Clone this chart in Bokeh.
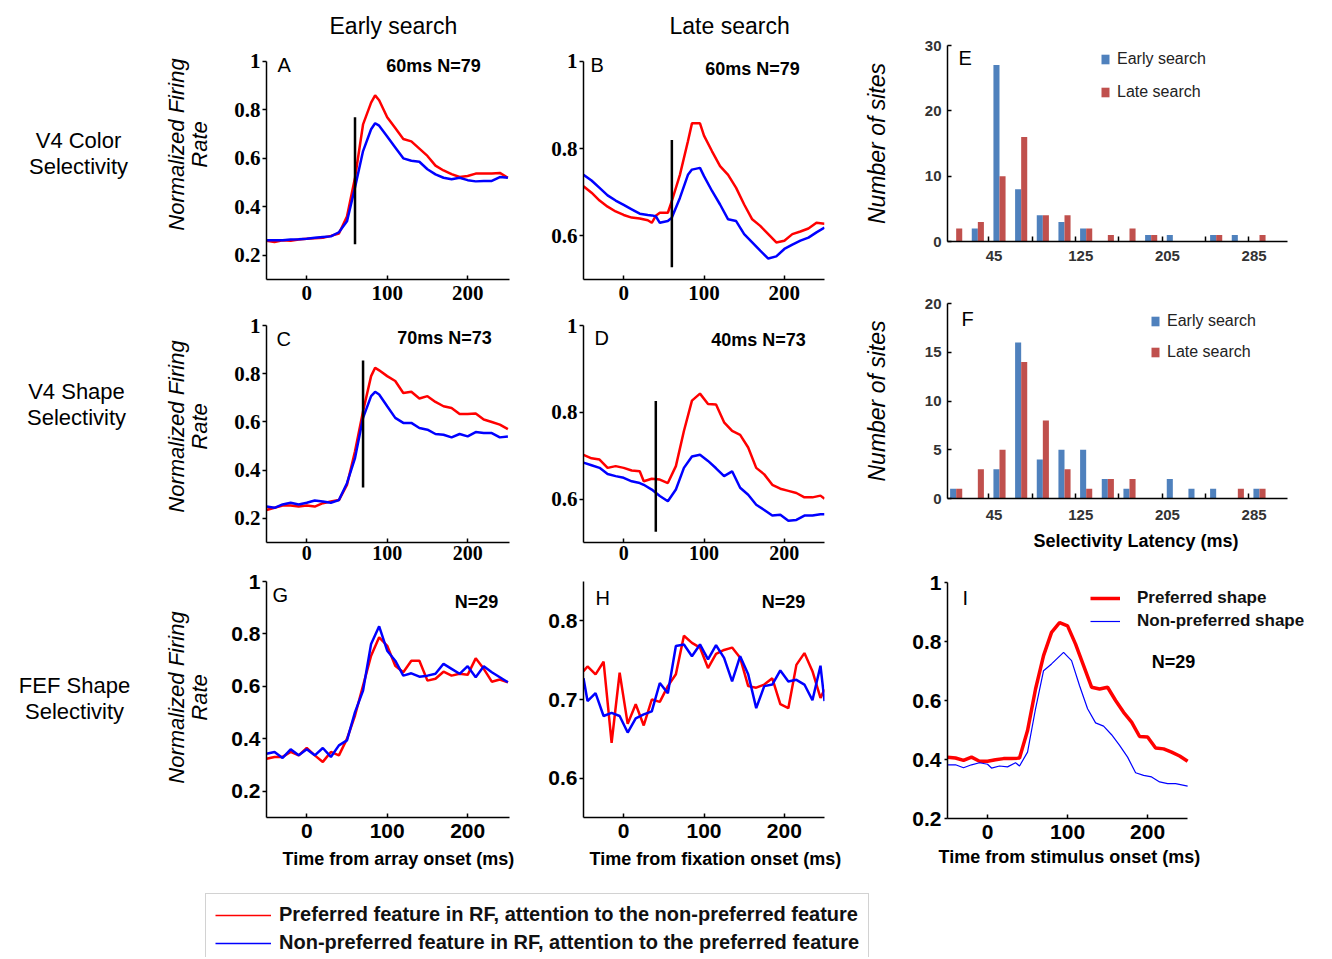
import math

from bokeh.embed import file_html
from bokeh.layouts import column, row
from bokeh.models import (ColumnDataSource, CustomJSTickFormatter, FixedTicker, Label,
                          Legend, LegendItem, Range1d, Title)
from bokeh.plotting import figure
from bokeh.resources import INLINE
from bokeh.transform import dodge

# ---- values ----
# V4 colour selectivity, early search (A)
t_a = [-50, -40, -30, -20, -10, 0, 10, 20, 30, 40, 50, 60, 70, 80, 85, 90,
       100, 110, 120, 130, 140, 150, 160, 170, 180, 190, 200, 210, 220, 230, 240, 250]
red_a = [0.26, 0.255, 0.262, 0.26, 0.265, 0.268, 0.27, 0.272, 0.28, 0.29, 0.36, 0.52, 0.74, 0.83, 0.86, 0.84,
         0.77, 0.725, 0.68, 0.67, 0.64, 0.61, 0.57, 0.55, 0.535, 0.523, 0.527, 0.537, 0.537, 0.538, 0.54, 0.52]
blue_a = [0.262, 0.262, 0.262, 0.265, 0.266, 0.268, 0.272, 0.275, 0.278, 0.295, 0.34, 0.48, 0.63, 0.72, 0.745, 0.735,
          0.69, 0.645, 0.60, 0.59, 0.586, 0.555, 0.534, 0.52, 0.514, 0.52, 0.51, 0.505, 0.507, 0.507, 0.523, 0.52]

# V4 colour selectivity, late search (B)
t_b = [-50, -40, -30, -20, -10, 0, 10, 20, 30, 35, 40, 45, 55, 60, 70, 80, 85, 95,
       100, 110, 120, 130, 140, 150, 160, 170, 180, 190, 200, 210, 220, 230, 240, 250]
red_b = [0.714, 0.699, 0.681, 0.667, 0.656, 0.648, 0.642, 0.64, 0.636, 0.63, 0.646, 0.653, 0.653, 0.68, 0.74,
         0.817, 0.858, 0.858, 0.83, 0.794, 0.76, 0.74, 0.71, 0.672, 0.638, 0.623, 0.604, 0.585, 0.589, 0.604,
         0.61, 0.617, 0.63, 0.628]
blue_b = [0.74, 0.727, 0.71, 0.693, 0.681, 0.671, 0.661, 0.651, 0.648, 0.647, 0.645, 0.63, 0.634, 0.642, 0.687,
          0.74, 0.752, 0.756, 0.737, 0.703, 0.672, 0.638, 0.634, 0.604, 0.585, 0.566, 0.548, 0.553, 0.57, 0.58,
          0.589, 0.596, 0.608, 0.619]

# V4 shape selectivity, early search (C)
t_c = [-50, -40, -30, -20, -10, 0, 10, 20, 30, 40, 50, 60, 70, 80, 85, 90,
       100, 110, 120, 130, 140, 150, 160, 170, 180, 190, 200, 210, 220, 230, 240, 250]
red_c = [0.235, 0.244, 0.253, 0.253, 0.249, 0.253, 0.249, 0.263, 0.27, 0.276, 0.339, 0.478, 0.644, 0.79, 0.825,
         0.814, 0.79, 0.77, 0.72, 0.725, 0.697, 0.707, 0.683, 0.665, 0.658, 0.633, 0.633, 0.635, 0.61, 0.6,
         0.589, 0.57]
blue_c = [0.249, 0.244, 0.258, 0.265, 0.258, 0.265, 0.274, 0.27, 0.265, 0.276, 0.346, 0.45, 0.617, 0.707, 0.725,
          0.714, 0.665, 0.617, 0.596, 0.596, 0.575, 0.568, 0.55, 0.547, 0.536, 0.55, 0.54, 0.558, 0.554, 0.554,
          0.536, 0.54]

# V4 shape selectivity, late search (D)
t_d = [-50, -40, -30, -20, -10, 0, 10, 20, 25, 35, 45, 55, 65, 75, 85, 95, 105, 115, 125, 135,
       145, 155, 165, 175, 185, 195, 205, 215, 225, 235, 245, 250]
red_d = [0.702, 0.694, 0.691, 0.672, 0.676, 0.672, 0.666, 0.664, 0.641, 0.647, 0.645, 0.637, 0.676, 0.757,
         0.827, 0.843, 0.819, 0.818, 0.777, 0.757, 0.748, 0.719, 0.672, 0.657, 0.633, 0.624, 0.619, 0.614,
         0.604, 0.604, 0.608, 0.601]
blue_d = [0.684, 0.678, 0.672, 0.658, 0.653, 0.649, 0.641, 0.637, 0.633, 0.622, 0.607, 0.595, 0.622, 0.672,
          0.698, 0.702, 0.688, 0.671, 0.653, 0.664, 0.626, 0.61, 0.587, 0.575, 0.562, 0.564, 0.55, 0.552,
          0.562, 0.562, 0.565, 0.565]

# FEF shape selectivity, early search (G)
t_g = [-50, -40, -30, -20, -10, 0, 10, 20, 30, 40, 50, 60, 70, 80, 90, 100,
       110, 120, 130, 140, 150, 160, 170, 180, 190, 200, 210, 220, 230, 240, 250]
red_g = [0.324, 0.331, 0.331, 0.35, 0.337, 0.365, 0.337, 0.312, 0.35, 0.337, 0.4, 0.489, 0.603, 0.717, 0.787,
         0.755, 0.679, 0.654, 0.698, 0.698, 0.622, 0.629, 0.656, 0.641, 0.648, 0.644, 0.707, 0.667, 0.618,
         0.626, 0.616]
blue_g = [0.343, 0.35, 0.327, 0.36, 0.337, 0.36, 0.337, 0.365, 0.331, 0.375, 0.394, 0.502, 0.584, 0.762, 0.829,
          0.736, 0.698, 0.641, 0.65, 0.637, 0.641, 0.648, 0.686, 0.667, 0.648, 0.677, 0.635, 0.677, 0.654,
          0.635, 0.616]

# FEF shape selectivity, late search (H)
t_h = [-50, -45, -35, -25, -15, -5, 5, 15, 25, 35, 45, 55, 65, 75, 85, 95, 105, 115, 125, 135,
       145, 155, 165, 175, 185, 195, 205, 215, 225, 235, 245, 250]
red_h = [0.736, 0.742, 0.732, 0.748, 0.645, 0.734, 0.669, 0.694, 0.667, 0.7, 0.697, 0.717, 0.732, 0.781,
         0.772, 0.766, 0.74, 0.758, 0.763, 0.766, 0.753, 0.717, 0.715, 0.719, 0.727, 0.694, 0.689, 0.744,
         0.759, 0.736, 0.702, 0.713]
blue_h = [0.727, 0.698, 0.708, 0.679, 0.683, 0.679, 0.658, 0.676, 0.681, 0.685, 0.721, 0.708, 0.768, 0.77,
          0.755, 0.77, 0.751, 0.769, 0.753, 0.723, 0.755, 0.732, 0.689, 0.717, 0.719, 0.737, 0.723, 0.725,
          0.719, 0.699, 0.743, 0.698]

# FEF, preferred vs non-preferred shape (I)
t_i_red = [-50, -40, -30, -20, -10, 0, 10, 20, 30, 40, 50, 60, 70, 80, 90, 100,
           110, 120, 130, 140, 150, 160, 170, 180, 190, 200, 210, 220, 230, 240, 250]
red_i = [0.408, 0.405, 0.397, 0.408, 0.394, 0.394, 0.399, 0.403, 0.403, 0.405, 0.498, 0.639, 0.752, 0.831,
         0.864, 0.853, 0.791, 0.718, 0.645, 0.639, 0.645, 0.6, 0.56, 0.527, 0.478, 0.476, 0.439, 0.436,
         0.425, 0.412, 0.394]
t_i_blue = [-50, -40, -30, -20, -10, 0, 5, 15, 25, 35, 40, 50, 60, 70, 80, 95, 105, 115, 125, 135,
            145, 155, 165, 175, 185, 195, 205, 215, 225, 235, 250]
blue_i = [0.382, 0.382, 0.372, 0.382, 0.389, 0.384, 0.371, 0.378, 0.375, 0.389, 0.378, 0.425, 0.572, 0.701,
          0.724, 0.763, 0.735, 0.65, 0.572, 0.524, 0.513, 0.484, 0.448, 0.408, 0.355, 0.346, 0.341, 0.324,
          0.318, 0.318, 0.31]

# selectivity latency markers for A-D: time and vertical extent
latency_ms = [60, 60, 70, 40]
latency_lo = [0.245, 0.528, 0.328, 0.525]
latency_hi = [0.77, 0.82, 0.855, 0.826]
latency_notes = ["60ms N=79", "60ms N=79", "70ms N=73", "40ms N=73"]

# latency histograms (E: colour, F: shape)
bin_centers = [10, 30, 50, 70, 90, 110, 130, 150, 170, 190, 210, 230, 250, 270, 290]
early_e = [0, 2, 27, 8, 4, 3, 2, 0, 0, 1, 1, 0, 1, 1, 0]
late_e = [2, 3, 10, 16, 4, 4, 2, 1, 2, 1, 0, 0, 1, 0, 1]
early_f = [1, 0, 3, 16, 4, 5, 5, 2, 1, 0, 2, 1, 1, 0, 1]
late_f = [1, 3, 5, 14, 8, 3, 1, 2, 2, 0, 0, 0, 0, 1, 1]

time_ticks = [0, 100, 200]
rate_ticks = [0.2, 0.4, 0.6, 0.8, 1.0]
late_ticks = [0.6, 0.8, 1.0]
fef_late_ticks = [0.6, 0.7, 0.8]
hist_labels = [45, 125, 205, 285]
hist_marks = [40, 80, 120, 160, 200, 240, 280]

RED = "#ff0000"
BLUE = "#0000ff"
HIST_BLUE = "#4f81bd"
HIST_RED = "#c0504d"
SANS = "Liberation Sans"
SERIF = "Liberation Serif"
PAD = 12  # room above the end of the y axis so panel letters are not cut


def base(width, height, borders, x_range, y_range):
    left, right, top, bottom = borders
    p = figure(width=width, height=height, x_range=Range1d(*x_range), y_range=Range1d(*y_range),
               output_backend="svg", toolbar_location=None,
               min_border_left=left, min_border_right=right,
               min_border_top=top, min_border_bottom=bottom)
    p.grid.visible = False
    p.outline_line_color = None
    for ax in p.axis:
        ax.axis_line_color = "black"
        ax.axis_line_width = 1.5
        ax.major_tick_line_color = "black"
        ax.major_tick_line_width = 1.5
        ax.minor_tick_line_color = None
        ax.major_label_text_font_style = "bold"
        ax.major_label_text_color = "black"
    return p


def rate_panel(width, height, borders, x_range, y_range, y_ticks, font):
    left, right, top, bottom = borders
    y0, y1 = y_range
    extra = (y1 - y0) * PAD / (height - top - bottom)
    p = base(width, height, (left, right, top - PAD, bottom), x_range, (y0, y1 + extra))
    p.yaxis.bounds = (y0, y1)
    p.xaxis.ticker = FixedTicker(ticks=time_ticks)
    p.yaxis.ticker = FixedTicker(ticks=y_ticks)
    p.yaxis.formatter = CustomJSTickFormatter(code="return tick == 1 ? '1' : tick.toFixed(1);")
    for ax in p.axis:
        ax.major_label_text_font = font
        ax.major_label_text_font_size = "21px"
    p.xaxis.major_tick_in = 4
    p.xaxis.major_tick_out = 0
    p.xaxis.major_label_standoff = 6
    p.yaxis.major_tick_in = 0
    p.yaxis.major_tick_out = 4
    p.yaxis.major_label_standoff = 2
    return p


def note(p, x, y, text, size, style="normal", align="left", angle=0.0):
    p.add_layout(Label(x=x, y=y, x_units="screen", y_units="screen", text=text,
                       text_font=SANS, text_font_size=size, text_font_style=style,
                       text_align=align, text_baseline="middle", angle=angle,
                       text_color="black"))


def pair(p, t_red, red, t_blue, blue, red_width=2.5, blue_width=2.5):
    r = p.line(t_red, red, line_color=RED, line_width=red_width)
    b = p.line(t_blue, blue, line_color=BLUE, line_width=blue_width)
    return r, b


def latency(p, i):
    p.segment(x0=[latency_ms[i]], y0=[latency_lo[i]], x1=[latency_ms[i]], y1=[latency_hi[i]],
              line_color="black", line_width=2.5)


def x_title(p, text, offset, standoff):
    p.add_layout(Title(text=text, align="left", offset=offset, standoff=standoff,
                       text_font=SANS, text_font_size="18px", text_font_style="bold",
                       text_color="black"), "below")


def col_title(p, text, offset, standoff):
    p.title.text = text
    p.title.align = "left"
    p.title.offset = offset
    p.title.standoff = standoff
    p.title.text_font = SANS
    p.title.text_font_size = "23px"
    p.title.text_font_style = "normal"
    p.title.text_color = "black"


def hist_panel(height, borders, y_max, y_ticks, early, late, legend_at, spacing):
    p = base(464, height, borders, (2, 350), (0, y_max))
    src = ColumnDataSource(dict(x=bin_centers, early=early, late=late))
    rb = p.vbar(x=dodge("x", -2.8), top="early", width=5.6, source=src,
                fill_color=HIST_BLUE, line_color=None)
    rr = p.vbar(x=dodge("x", 2.8), top="late", width=5.6, source=src,
                fill_color=HIST_RED, line_color=None)
    p.xaxis.bounds = (2, 316)
    p.xaxis.ticker = FixedTicker(ticks=hist_labels, minor_ticks=hist_marks)
    p.xaxis.major_tick_in = 0
    p.xaxis.major_tick_out = 0
    p.xaxis.minor_tick_line_color = "black"
    p.xaxis.minor_tick_line_width = 1.5
    p.xaxis.minor_tick_in = 5
    p.xaxis.minor_tick_out = 0
    p.xaxis.major_label_standoff = 9
    p.yaxis.ticker = FixedTicker(ticks=y_ticks)
    p.yaxis.major_tick_in = 4
    p.yaxis.major_tick_out = 0
    p.yaxis.major_label_standoff = 6
    for ax in p.axis:
        ax.major_label_text_font = SANS
        ax.major_label_text_font_size = "15px"
        ax.major_label_text_color = "#333333"
    p.yaxis.axis_label = "Number of sites"
    p.yaxis.axis_label_text_font = SANS
    p.yaxis.axis_label_text_font_size = "23px"
    p.yaxis.axis_label_text_font_style = "italic"
    p.yaxis.axis_label_text_color = "black"
    p.yaxis.axis_label_standoff = 32
    legend = Legend(items=[LegendItem(label="Early search", renderers=[rb]),
                           LegendItem(label="Late search", renderers=[rr])],
                    location=legend_at, glyph_width=10, glyph_height=12, label_height=18,
                    spacing=spacing, padding=0, label_standoff=7, border_line_color=None,
                    background_fill_alpha=0, label_text_font=SANS, label_text_font_size="16px",
                    label_text_color="#222222")
    p.add_layout(legend)
    return p


# ---- texts left of the panels: row names and y titles ----
side = figure(width=215, height=893, x_range=Range1d(0, 1), y_range=Range1d(0, 1),
              output_backend="svg", toolbar_location=None, x_axis_location=None,
              y_axis_location=None, min_border=0)
side.grid.visible = False
side.outline_line_color = None
row_names = [("V4 Color", 78, 753), ("Selectivity", 78, 727),
             ("V4 Shape", 76, 502), ("Selectivity", 76, 476),
             ("FEF Shape", 74, 208), ("Selectivity", 74, 182)]
for text, x, y in row_names:
    note(side, x, y, text, "22px", align="center")
for y in (749, 467, 196):
    note(side, 176, y, "Normalized Firing", "22px", "italic", "center", math.pi / 2)
    note(side, 199, y, "Rate", "22px", "italic", "center", math.pi / 2)

# ---- first column ----
p_a = rate_panel(322, 310, (51, 28, 60, 31), (-50, 252), (0.1, 1.0), rate_ticks, SERIF)
pair(p_a, t_a, red_a, t_a, blue_a)
latency(p_a, 0)
note(p_a, 11, 215, "A", "20px")
note(p_a, 167, 214, latency_notes[0], "18px", "bold", "center")
col_title(p_a, "Early search", 63, 21)

p_c = rate_panel(322, 258, (51, 28, 15, 26), (-50, 252), (0.1, 1.0), rate_ticks, SERIF)
p_c.xaxis.major_label_text_font_size = "20px"
p_c.xaxis.major_label_standoff = 3
pair(p_c, t_c, red_c, t_c, blue_c)
latency(p_c, 2)
note(p_c, 10, 204, "C", "20px")
note(p_c, 178, 205, latency_notes[2], "18px", "bold", "center")

p_g = rate_panel(322, 325, (51, 28, 13, 76), (-50, 252), (0.1, 1.0), rate_ticks, SANS)
pair(p_g, t_g, red_g, t_g, blue_g)
note(p_g, 6, 223, "G", "20px")
note(p_g, 210, 216, "N=29", "18px", "bold", "center")
x_title(p_g, "Time from array onset (ms)", 16, 12)

# ---- second column ----
p_b = rate_panel(323, 310, (46, 36, 60, 31), (-50, 250), (0.5, 1.0), late_ticks, SERIF)
pair(p_b, t_b, red_b, t_b, blue_b)
latency(p_b, 1)
note(p_b, 7, 215, "B", "20px")
note(p_b, 169, 211, latency_notes[1], "18px", "bold", "center")
col_title(p_b, "Late search", 86, 21)

p_d = rate_panel(323, 258, (46, 36, 15, 26), (-50, 250), (0.5, 1.0), late_ticks, SERIF)
p_d.xaxis.major_label_text_font_size = "20px"
p_d.xaxis.major_label_standoff = 3
pair(p_d, t_d, red_d, t_d, blue_d)
latency(p_d, 3)
note(p_d, 11, 205, "D", "20px")
note(p_d, 175, 203, latency_notes[3], "18px", "bold", "center")

p_h = rate_panel(323, 325, (46, 36, 13, 76), (-50, 250), (0.55, 0.85), fef_late_ticks, SANS)
pair(p_h, t_h, red_h, t_h, blue_h)
note(p_h, 12, 220, "H", "20px")
note(p_h, 200, 216, "N=29", "18px", "bold", "center")
x_title(p_h, "Time from fixation onset (ms)", 6, 12)

# ---- third column ----
p_e = hist_panel(290, (87, 0, 45, 49), 30, [0, 10, 20, 30], early_e, late_e, (153, 140), 15)
note(p_e, 11, 184, "E", "20px")

p_f = hist_panel(278, (87, 0, 13, 70), 20, [0, 5, 10, 15, 20], early_f, late_f, (203, 137), 13)
p_f.xaxis.major_label_standoff = 11
p_f.xaxis.axis_label = "Selectivity Latency (ms)"
p_f.xaxis.axis_label_text_font = SANS
p_f.xaxis.axis_label_text_font_size = "18px"
p_f.xaxis.axis_label_text_font_style = "bold"
p_f.xaxis.axis_label_text_color = "black"
p_f.xaxis.axis_label_standoff = 8
note(p_f, 14, 180, "F", "20px")

p_i = rate_panel(464, 325, (87, 0, 14, 75), (-50, 421), (0.2, 1.0), rate_ticks, SANS)
p_i.xaxis.bounds = (-50, 250)
r_i, b_i = pair(p_i, t_i_red, red_i, t_i_blue, blue_i, red_width=3.5, blue_width=1.2)
p_i.yaxis.major_tick_out = 3
p_i.yaxis.major_label_standoff = 3
note(p_i, 15, 221, "I", "20px")
note(p_i, 226, 157, "N=29", "18px", "bold", "center")
x_title(p_i, "Time from stimulus onset (ms)", -9, 7)
p_i.add_layout(Legend(items=[LegendItem(label="Preferred shape", renderers=[r_i]),
                             LegendItem(label="Non-preferred shape", renderers=[b_i])],
                      location=(143, 187), glyph_width=30, glyph_height=20, label_height=20,
                      spacing=3, padding=0, label_standoff=17, border_line_color=None,
                      background_fill_alpha=0, label_text_font=SANS, label_text_font_size="17px",
                      label_text_font_style="bold", label_text_color="#111111"))

# ---- shared legend under the first two columns ----
p_key = figure(width=1324, height=64, x_range=Range1d(1000, 1001), y_range=Range1d(0, 1),
               output_backend="svg", toolbar_location=None, x_axis_location=None,
               y_axis_location=None, min_border=0)
p_key.grid.visible = False
p_key.outline_line_color = None
k_red = p_key.line(t_a, red_a, line_color=RED, line_width=1.5)
k_blue = p_key.line(t_a, blue_a, line_color=BLUE, line_width=1.5)
p_key.add_layout(Legend(
    items=[LegendItem(label="Preferred feature in RF, attention to the non-preferred feature", renderers=[k_red]),
           LegendItem(label="Non-preferred feature in RF, attention to the preferred feature", renderers=[k_blue])],
    location=(205, -7), glyph_width=56, glyph_height=22, label_height=22, spacing=5, padding=9,
    label_standoff=8, border_line_color="#a6a6a6", border_line_width=1.5, background_fill_color="white",
    label_text_font=SANS, label_text_font_size="20px", label_text_font_style="bold",
    label_text_color="#111111"))

layout = column(row(side, column(p_a, p_c, p_g), column(p_b, p_d, p_h), column(p_e, p_f, p_i)), p_key)

open("out.html", "w").write(file_html(layout, INLINE))
